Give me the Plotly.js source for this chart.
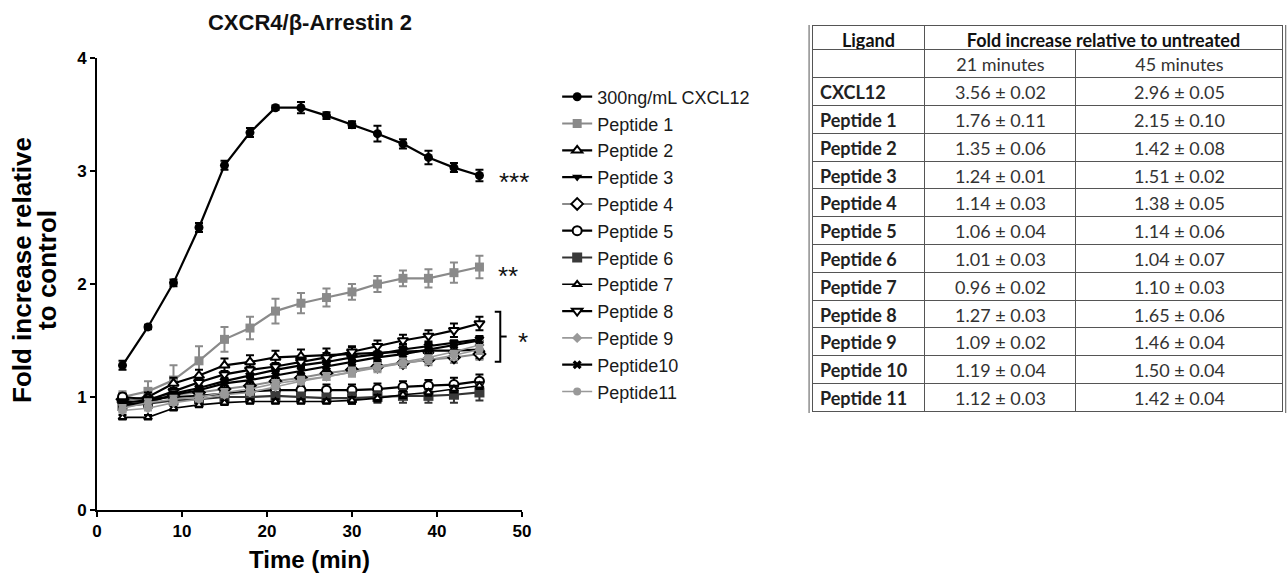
<!DOCTYPE html>
<html>
<head>
<meta charset="utf-8">
<script src="https://cdn.plot.ly/plotly-3.0.1.min.js"></script>
<style>html,body{margin:0;padding:0;background:#fff;}#chart{width:1287px;height:577px;}</style>
</head>
<body>
<div id="chart"></div>
<script>
// ---- Time course data ----
const time = [3, 6, 9, 12, 15, 18, 21, 24, 27, 30, 33, 36, 39, 42, 45];

const seriesNames = ["300ng/mL CXCL12", "Peptide 1", "Peptide 2", "Peptide 3", "Peptide 4", "Peptide 5",
  "Peptide 6", "Peptide 7", "Peptide 8", "Peptide 9", "Peptide10", "Peptide11"];

const cxcl12   = [1.28, 1.62, 2.01, 2.50, 3.05, 3.34, 3.56, 3.56, 3.49, 3.41, 3.33, 3.24, 3.12, 3.03, 2.96];
const cxcl12E  = [0.04, 0.02, 0.03, 0.04, 0.04, 0.04, 0.02, 0.05, 0.03, 0.03, 0.07, 0.04, 0.06, 0.04, 0.05];
const pep1     = [1.00, 1.05, 1.15, 1.32, 1.51, 1.61, 1.76, 1.83, 1.88, 1.93, 2.00, 2.05, 2.05, 2.10, 2.15];
const pep1E    = [0.05, 0.09, 0.13, 0.13, 0.11, 0.10, 0.11, 0.09, 0.08, 0.07, 0.07, 0.07, 0.08, 0.09, 0.10];
const pep2     = [0.97, 1.00, 1.12, 1.19, 1.28, 1.31, 1.35, 1.36, 1.37, 1.38, 1.39, 1.40, 1.41, 1.41, 1.42];
const pep2E    = [0.04, 0.04, 0.05, 0.05, 0.06, 0.06, 0.06, 0.06, 0.06, 0.07, 0.07, 0.07, 0.07, 0.08, 0.08];
const pep3     = [0.93, 0.95, 1.03, 1.08, 1.14, 1.19, 1.24, 1.28, 1.31, 1.35, 1.38, 1.42, 1.45, 1.48, 1.51];
const pep3E    = [0.02, 0.02, 0.02, 0.02, 0.02, 0.01, 0.01, 0.02, 0.02, 0.02, 0.02, 0.02, 0.02, 0.02, 0.02];
const pep4     = [0.98, 0.99, 1.02, 1.04, 1.07, 1.10, 1.14, 1.17, 1.21, 1.24, 1.27, 1.30, 1.33, 1.35, 1.38];
const pep4E    = [0.03, 0.03, 0.03, 0.03, 0.03, 0.03, 0.03, 0.04, 0.04, 0.04, 0.04, 0.04, 0.05, 0.05, 0.05];
const pep5     = [1.00, 0.98, 1.00, 1.01, 1.03, 1.05, 1.06, 1.06, 1.06, 1.06, 1.07, 1.09, 1.10, 1.11, 1.14];
const pep5E    = [0.03, 0.03, 0.03, 0.04, 0.04, 0.04, 0.04, 0.04, 0.05, 0.05, 0.05, 0.05, 0.05, 0.06, 0.06];
const pep6     = [0.92, 0.94, 0.97, 0.98, 1.00, 1.00, 1.01, 1.00, 0.99, 0.99, 1.00, 1.01, 1.01, 1.02, 1.04];
const pep6E    = [0.03, 0.03, 0.03, 0.03, 0.03, 0.03, 0.03, 0.04, 0.04, 0.05, 0.05, 0.06, 0.06, 0.07, 0.07];
const pep7     = [0.82, 0.82, 0.90, 0.93, 0.95, 0.96, 0.96, 0.96, 0.96, 0.97, 0.99, 1.02, 1.04, 1.07, 1.10];
const pep7E    = [0.02, 0.02, 0.02, 0.02, 0.02, 0.02, 0.02, 0.02, 0.02, 0.03, 0.03, 0.03, 0.03, 0.03, 0.03];
const pep8     = [0.95, 0.97, 1.05, 1.13, 1.20, 1.24, 1.27, 1.31, 1.35, 1.40, 1.45, 1.50, 1.54, 1.59, 1.65];
const pep8E    = [0.03, 0.03, 0.03, 0.03, 0.03, 0.03, 0.03, 0.04, 0.04, 0.04, 0.05, 0.05, 0.05, 0.06, 0.06];
const pep9     = [0.88, 0.90, 0.95, 0.98, 1.02, 1.04, 1.09, 1.14, 1.18, 1.22, 1.27, 1.31, 1.35, 1.40, 1.46];
const pep9E    = [0.02, 0.02, 0.02, 0.02, 0.02, 0.02, 0.02, 0.03, 0.03, 0.03, 0.03, 0.03, 0.04, 0.04, 0.04];
const pep10    = [0.93, 0.95, 1.02, 1.06, 1.12, 1.15, 1.19, 1.23, 1.27, 1.31, 1.35, 1.38, 1.42, 1.46, 1.50];
const pep10E   = [0.03, 0.03, 0.03, 0.03, 0.04, 0.04, 0.04, 0.04, 0.04, 0.04, 0.04, 0.04, 0.04, 0.04, 0.04];
const pep11    = [0.90, 0.95, 0.98, 1.00, 1.04, 1.07, 1.12, 1.15, 1.18, 1.22, 1.26, 1.30, 1.33, 1.37, 1.42];
const pep11E   = [0.03, 0.03, 0.03, 0.03, 0.03, 0.03, 0.03, 0.03, 0.03, 0.04, 0.04, 0.04, 0.04, 0.04, 0.04];

const yValues = [cxcl12, pep1, pep2, pep3, pep4, pep5, pep6, pep7, pep8, pep9, pep10, pep11];
const yErrors = [cxcl12E, pep1E, pep2E, pep3E, pep4E, pep5E, pep6E, pep7E, pep8E, pep9E, pep10E, pep11E];

// ---- Table data ----
const tableLigands = ["CXCL12", "Peptide 1", "Peptide 2", "Peptide 3", "Peptide 4", "Peptide 5",
  "Peptide 6", "Peptide 7", "Peptide 8", "Peptide 9", "Peptide 10", "Peptide 11"];
const fold21    = [3.56, 1.76, 1.35, 1.24, 1.14, 1.06, 1.01, 0.96, 1.27, 1.09, 1.19, 1.12];
const fold21Err = [0.02, 0.11, 0.06, 0.01, 0.03, 0.04, 0.03, 0.02, 0.03, 0.02, 0.04, 0.03];
const fold45    = [2.96, 2.15, 1.42, 1.51, 1.38, 1.14, 1.04, 1.10, 1.65, 1.46, 1.50, 1.42];
const fold45Err = [0.05, 0.10, 0.08, 0.02, 0.05, 0.06, 0.07, 0.03, 0.06, 0.04, 0.04, 0.04];
const tableHeader = ["Ligand", "Fold increase relative to untreated"];
const tableSubHeader = ["21 minutes", "45 minutes"];

// ---- Styles ----
const styles = [
  {line: '#000', sym: 'circle', mfill: '#000', mline: '#000', size: 9, lw: 2.2},
  {line: '#8a8a8a', sym: 'square', mfill: '#8a8a8a', mline: '#8a8a8a', size: 9, lw: 2.2},
  {line: '#000', sym: 'triangle-up', mfill: '#fff', mline: '#000', size: 9, lw: 2.2},
  {line: '#000', sym: 'triangle-down', mfill: '#000', mline: '#000', size: 9, lw: 2.2},
  {line: '#8a8a8a', sym: 'diamond', mfill: '#fff', mline: '#000', size: 9, lw: 2},
  {line: '#000', sym: 'circle', mfill: '#fff', mline: '#000', size: 9, lw: 2.2},
  {line: '#333', sym: 'square', mfill: '#3a3a3a', mline: '#3a3a3a', size: 10, lw: 2.2},
  {line: '#000', sym: 'triangle-up', mfill: '#fff', mline: '#000', size: 7, lw: 1.6},
  {line: '#000', sym: 'triangle-down', mfill: '#fff', mline: '#000', size: 9, lw: 2.2},
  {line: '#999', sym: 'diamond', mfill: '#999', mline: '#999', size: 8, lw: 1.6},
  {line: '#000', sym: 'x', mfill: '#000', mline: '#000', size: 8, lw: 2.2},
  {line: '#999', sym: 'circle', mfill: '#999', mline: '#999', size: 8, lw: 1.6}
];

const traces = seriesNames.map((name, i) => {
  const s = styles[i];
  return {
    type: 'scatter', mode: 'lines+markers', name: name,
    x: time, y: yValues[i],
    legendgroup: 'g' + i,
    line: {color: s.line, width: s.lw},
    marker: {symbol: s.sym, size: s.size, color: s.mfill, line: {color: s.mline, width: (s.mfill === '#fff' ? 2 : 0)}},
    error_y: {type: 'data', array: yErrors[i], visible: true, color: s.line, thickness: 2, width: 4},
    cliponaxis: false,
    xaxis: 'x', yaxis: 'y'
  };
});

const tableFont = 'Lato, "Open Sans", sans-serif';
const borderCol = '#555';
const rowH = 27.8;
const tX0 = 0.6029, tX1 = 0.6981, tX2 = 1.0;   // table column boundaries (paper)
const tY0 = 0.196, tY1 = 0.9485, tY2 = 1.0;

// Column 1: ligand names (bold)
traces.push({
  type: 'table',
  domain: {x: [tX0, tX1], y: [tY0, tY1]},
  header: {
    values: [''], height: rowH,
    line: {color: borderCol, width: 1}, fill: {color: '#fff'},
    font: {family: tableFont, size: 18, color: '#222'}
  },
  cells: {
    values: [tableLigands],
    align: 'left', height: rowH,
    line: {color: borderCol, width: 1}, fill: {color: '#fff'},
    font: {family: tableFont, size: 18, color: '#222', weight: 'bold'}
  }
});

// Columns 2-3: values
traces.push({
  type: 'table',
  domain: {x: [tX1, tX2], y: [tY0, tY1]},
  columnwidth: [151, 207],
  header: {
    values: tableSubHeader,
    align: 'center', height: rowH,
    line: {color: borderCol, width: 1}, fill: {color: '#fff'},
    font: {family: tableFont, size: 18, color: '#333'}
  },
  cells: {
    values: [
      fold21.map((v, i) => v.toFixed(2) + ' ± ' + fold21Err[i].toFixed(2)),
      fold45.map((v, i) => v.toFixed(2) + ' ± ' + fold45Err[i].toFixed(2))
    ],
    align: 'center', height: rowH,
    line: {color: borderCol, width: 1}, fill: {color: '#fff'},
    font: {family: tableFont, size: 18, color: '#333'}
  }
});

// Top header row with the merged "Fold increase" cell
traces.push({
  type: 'table',
  domain: {x: [tX0, tX2], y: [tY1, tY2]},
  columnwidth: [113, 358],
  header: {
    values: tableHeader,
    align: 'center', height: 25,
    line: {color: borderCol, width: 1}, fill: {color: '#fff'},
    font: {family: tableFont, size: 18, color: '#111', weight: 'bold'}
  },
  cells: {
    values: [[' '], [' ']],
    height: 20,
    line: {color: '#fff', width: 0}, fill: {color: '#fff'},
    font: {family: tableFont, size: 2, color: '#fff'}
  }
});

const axisFont = {family: '"Liberation Sans", Arial, sans-serif', size: 17, color: '#000', weight: 'bold'};
const bigFont = (s) => ({family: '"Liberation Sans", Arial, sans-serif', size: s, color: '#111'});

const layout = {
  width: 1287, height: 577,
  margin: {l: 97, r: 4, t: 25, b: 67},
  paper_bgcolor: '#fff', plot_bgcolor: '#fff',
  showlegend: true,
  title: {
    text: '<b>CXCR4/β-Arrestin 2</b>',
    x: 0.2409, xref: 'container', xanchor: 'center',
    y: 0.962, yref: 'container', yanchor: 'middle',
    font: bigFont(22)
  },
  xaxis: {
    domain: [0, 0.3583], range: [0, 50], tickvals: [0, 10, 20, 30, 40, 50],
    showgrid: false, zeroline: false, showline: true, linecolor: '#000', linewidth: 2,
    ticks: 'outside', ticklen: 5, tickwidth: 2, tickcolor: '#000',
    tickfont: axisFont,
    title: {text: '<b>Time (min)</b>', font: {family: '"Liberation Sans", Arial, sans-serif', size: 24, color: '#000'}, standoff: 11}
  },
  yaxis: {
    domain: [0, 0.932], range: [0, 4], tickvals: [0, 1, 2, 3, 4],
    showgrid: false, zeroline: false, showline: true, linecolor: '#000', linewidth: 2,
    ticks: 'outside', ticklen: 5, tickwidth: 2, tickcolor: '#000',
    tickfont: axisFont
  },
  legend: {
    x: 0.388, xanchor: 'left', y: 0.8897, yanchor: 'top',
    font: {family: '"Liberation Sans", Arial, sans-serif', size: 18, color: '#1a1a1a'},
    itemwidth: 30, tracegroupgap: 0.4, bgcolor: 'rgba(0,0,0,0)'
  },
  annotations: [
    // y-axis title, two lines
    {x: -0.0632, y: 0.495, xref: 'paper', yref: 'paper', text: '<b>Fold increase relative</b>', textangle: -90, showarrow: false, xanchor: 'center', yanchor: 'middle', font: {family: '"Liberation Sans", Arial, sans-serif', size: 26, color: '#000'}},
    {x: -0.0422, y: 0.495, xref: 'paper', yref: 'paper', text: '<b>to control</b>', textangle: -90, showarrow: false, xanchor: 'center', yanchor: 'middle', font: {family: '"Liberation Sans", Arial, sans-serif', size: 26, color: '#000'}},
    // significance marks
    {x: 49.1, y: 2.90, xref: 'x', yref: 'y', text: '***', showarrow: false, font: bigFont(26)},
    {x: 48.35, y: 2.07, xref: 'x', yref: 'y', text: '**', showarrow: false, font: bigFont(26)},
    {x: 50, xshift: 1, y: 1.49, xref: 'x', yref: 'y', text: '*', showarrow: false, font: bigFont(26)}
  ],
  shapes: [
    {type: 'path', xref: 'x', yref: 'y', path: 'M 46.8 1.755 L 47.45 1.755 L 47.45 1.312 L 46.8 1.312', line: {color: '#000', width: 2}},
    {type: 'line', xref: 'x', yref: 'y', x0: 47.45, x1: 48.2, y0: 1.535, y1: 1.535, line: {color: '#000', width: 2}},
    // double outer borders of the table
    {type: 'line', xref: 'paper', yref: 'paper', x0: 0.6004, x1: 0.6004, y0: 0.2, y1: 1.0, line: {color: borderCol, width: 1}},
    {type: 'line', xref: 'paper', yref: 'paper', x0: 1.0023, x1: 1.0023, y0: 0.2, y1: 1.0, line: {color: borderCol, width: 1}}
  ]
};

Plotly.newPlot('chart', traces, layout, {displayModeBar: false, staticPlot: true});
</script>
</body>
</html>
